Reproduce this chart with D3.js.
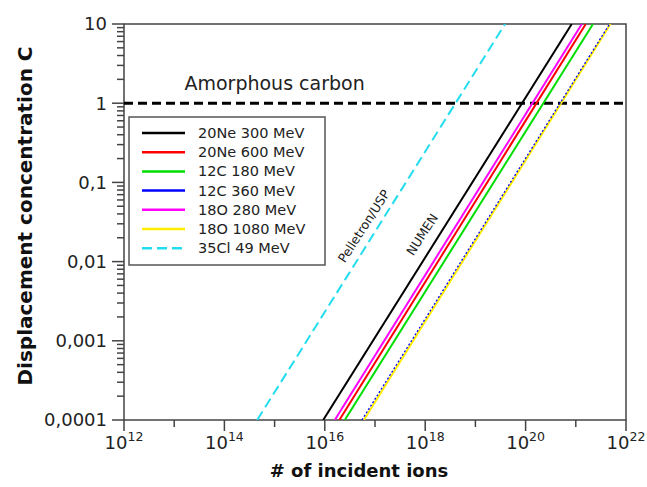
<!DOCTYPE html>
<html>
<head>
<meta charset="utf-8">
<script src="https://cdn.jsdelivr.net/npm/d3@7"></script>
<style>
  body { margin: 0; background: #fff; }
  svg { font-family: "DejaVu Sans", sans-serif; }
</style>
</head>
<body>
<div id="chart"></div>
<script>
// series: ion beams, N at C = 1e-4 and N at C = 10 (log-log straight lines)
const beams = ['20Ne 300 MeV', '20Ne 600 MeV', '12C 180 MeV', '12C 360 MeV', '18O 280 MeV', '18O 1080 MeV', '35Cl 49 MeV'];
const beamColors = ['#000000', '#ff0000', '#00dd00', '#0000ff', '#ff00ff', '#ffee00', '#22ddee'];
const concRange = [1e-4, 10];
const ionsAtLow = [9.3e15, 1.95e16, 2.5e16, 5.5e16, 1.58e16, 6.0e16, 4.5e14];
const ionsAtHigh = [8.3e20, 1.58e21, 2.2e21, 4.7e21, 1.32e21, 4.9e21, 3.9e19];
const amorphousLimit = 1;

const xTickExps = [12, 14, 16, 18, 20, 22];
const yTicks = [10, 1, 0.1, 0.01, 0.001, 0.0001];
const yTickLabels = ['10', '1', '0,1', '0,01', '0,001', '0,0001'];

const W = 647, H = 487;
const margin = { top: 24, right: 21, bottom: 67, left: 124 };
const width = W - margin.left - margin.right;
const height = H - margin.top - margin.bottom;

const svg = d3.select('#chart').append('svg')
  .attr('width', W).attr('height', H);
const g = svg.append('g')
  .attr('transform', `translate(${margin.left},${margin.top})`);

const x = d3.scaleLog().domain([1e12, 1e22]).range([0, width]);
const y = d3.scaleLog().domain([1e-4, 10]).range([height, 0]);

// frame
g.append('rect')
  .attr('width', width).attr('height', height)
  .attr('fill', 'none').attr('stroke', '#444').attr('stroke-width', 1.5);

// x axis ticks (major every 2 decades, minor in between)
const xMinor = d3.range(13, 22, 2).map(e => Math.pow(10, e));
const xAxis = g.append('g').attr('transform', `translate(0,${height})`);
xAxis.selectAll('.maj').data(xTickExps).enter().append('line')
  .attr('x1', d => x(Math.pow(10, d))).attr('x2', d => x(Math.pow(10, d)))
  .attr('y1', 0).attr('y2', 11).attr('stroke', '#444').attr('stroke-width', 1.5);
xAxis.selectAll('.min').data(xMinor).enter().append('line')
  .attr('x1', d => x(d)).attr('x2', d => x(d))
  .attr('y1', 0).attr('y2', 7).attr('stroke', '#444').attr('stroke-width', 1.5);
const xl = xAxis.selectAll('.lab').data(xTickExps).enter().append('text')
  .attr('x', d => x(Math.pow(10, d))).attr('y', 29)
  .attr('text-anchor', 'middle')
  .style('font-size', '18px').attr('fill', '#222');
xl.append('tspan').text('10');
xl.append('tspan').attr('dy', -8).style('font-size', '12.5px').text(d => d);

// y axis ticks
const yMinor = [];
d3.range(-4, 1).forEach(e => {
  for (let k = 2; k <= 9; k++) yMinor.push(k * Math.pow(10, e));
});
const yAxis = g.append('g');
yAxis.selectAll('.maj').data(yTicks).enter().append('line')
  .attr('x1', -12).attr('x2', 0)
  .attr('y1', d => y(d)).attr('y2', d => y(d))
  .attr('stroke', '#444').attr('stroke-width', 1.5);
yAxis.selectAll('.min').data(yMinor).enter().append('line')
  .attr('x1', -7).attr('x2', 0)
  .attr('y1', d => y(d)).attr('y2', d => y(d))
  .attr('stroke', '#444').attr('stroke-width', 1.5);
yAxis.selectAll('.lab').data(yTicks).enter().append('text')
  .attr('x', -17).attr('y', d => y(d)).attr('dy', '0.35em')
  .attr('text-anchor', 'end')
  .style('font-size', '18px').attr('fill', '#222')
  .text((d, i) => yTickLabels[i]);

// axis titles
svg.append('text')
  .attr('x', margin.left + width / 2 - 16).attr('y', 477)
  .attr('text-anchor', 'middle')
  .style('font-size', '18px').style('font-weight', 'bold').attr('fill', '#111')
  .text('# of incident ions');
svg.append('text')
  .attr('transform', 'translate(32,216) rotate(-90)')
  .attr('text-anchor', 'middle')
  .style('font-size', '20px').style('font-weight', 'bold').attr('fill', '#111')
  .text('Displacement concentration C');

// amorphous carbon threshold
g.append('line')
  .attr('x1', 0).attr('x2', width)
  .attr('y1', y(amorphousLimit)).attr('y2', y(amorphousLimit))
  .attr('stroke', '#000').attr('stroke-width', 3)
  .attr('stroke-dasharray', '9,5');
g.append('text')
  .attr('x', x(1.6e13)).attr('y', y(amorphousLimit) - 13)
  .style('font-size', '19px').attr('fill', '#222')
  .text('Amorphous carbon');

// series lines
const line = d3.line().x(d => x(d[0])).y(d => y(d[1]));
const order = [0, 1, 2, 4, 5, 3, 6];
const clip = g.append('clipPath').attr('id', 'clip')
  .append('rect').attr('width', width).attr('height', height);
order.forEach(i => {
  const pts = [[ionsAtLow[i], concRange[0]], [ionsAtHigh[i], concRange[1]]];
  const p = g.append('path')
    .attr('clip-path', 'url(#clip)')
    .attr('d', line(pts))
    .attr('fill', 'none')
    .attr('stroke', beamColors[i]);
  if (i === 6) p.attr('stroke-width', 2).attr('stroke-dasharray', '10,5');
  else if (i === 3) p.attr('stroke-width', 1.3).attr('stroke-dasharray', '2,2');
  else p.attr('stroke-width', 2);
});

// line annotations
const ang = -57;
g.append('text')
  .attr('transform', `translate(${x(6e16)},${y(0.028)}) rotate(${ang})`)
  .attr('text-anchor', 'middle').attr('dy', '0.35em')
  .style('font-size', '12.5px').attr('fill', '#222')
  .text('Pelletron/USP');
g.append('text')
  .attr('transform', `translate(${x(8.7e17)},${y(0.022)}) rotate(${ang})`)
  .attr('text-anchor', 'middle').attr('dy', '0.35em')
  .style('font-size', '12.5px').attr('fill', '#222')
  .text('NUMEN');

// legend
const lg = svg.append('g').attr('transform', 'translate(129,117)');
lg.append('rect')
  .attr('width', 196).attr('height', 148)
  .attr('fill', '#fff').attr('stroke', '#555').attr('stroke-width', 1.5);
const row = lg.selectAll('.row').data(beams).enter().append('g')
  .attr('transform', (d, i) => `translate(0,${16 + i * 19.2})`);
row.append('line')
  .attr('x1', 13).attr('x2', 56)
  .attr('stroke', (d, i) => beamColors[i]).attr('stroke-width', 2.5)
  .attr('stroke-dasharray', (d, i) => i === 6 ? '10,5' : null);
row.append('text')
  .attr('x', 69).attr('dy', '0.35em')
  .style('font-size', '14.5px').attr('fill', '#222')
  .text(d => d);
</script>
</body>
</html>
